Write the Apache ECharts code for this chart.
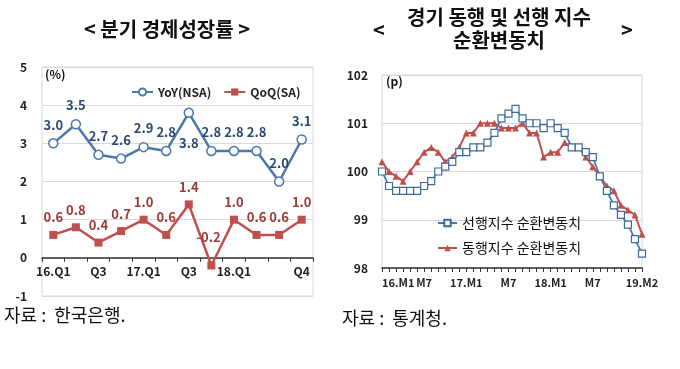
<!DOCTYPE html>
<html><head><meta charset="utf-8">
<script src="https://cdn.jsdelivr.net/npm/echarts@6/dist/echarts.min.js"></script>
<style>html,body{margin:0;padding:0;background:#fff}#c{width:680px;height:369px}</style>
</head><body><div id="c"></div>
<script>
// ---- Left chart data: quarterly GDP growth (%)
const quarters = ['16.Q1','16.Q2','16.Q3','16.Q4','17.Q1','17.Q2','17.Q3','17.Q4','18.Q1','18.Q2','18.Q3','18.Q4'];
const quarterTickLabels = ['16.Q1','','Q3','','17.Q1','','Q3','','18.Q1','','','Q4'];
const yoyNSA = [3.0,3.5,2.7,2.6,2.9,2.8,3.8,2.8,2.8,2.8,2.0,3.1];
const qoqSA  = [0.6,0.8,0.4,0.7,1.0,0.6,1.4,-0.2,1.0,0.6,0.6,1.0];
const leftYRange = [-1, 5];

// ---- Right chart data: cyclical components of leading/coincident indices
const months = ['16.M1','16.M2','16.M3','16.M4','16.M5','16.M6','16.M7','16.M8','16.M9','16.M10','16.M11','16.M12',
  '17.M1','17.M2','17.M3','17.M4','17.M5','17.M6','17.M7','17.M8','17.M9','17.M10','17.M11','17.M12',
  '18.M1','18.M2','18.M3','18.M4','18.M5','18.M6','18.M7','18.M8','18.M9','18.M10','18.M11','18.M12',
  '19.M1','19.M2'];
const monthTickLabels = ['16.M1','','','','','','M7','','','','','',
  '17.M1','','','','','','M7','','','','','',
  '18.M1','','','','','','M7','','','','','',
  '','19.M2'];
const leadingIdx = [100.0,99.7,99.6,99.6,99.6,99.6,99.7,99.8,100.0,100.1,100.2,100.4,
  100.4,100.5,100.5,100.6,100.8,101.1,101.2,101.3,101.1,101.0,101.0,100.9,
  101.0,100.9,100.8,100.5,100.5,100.4,100.3,99.9,99.6,99.3,99.1,98.9,
  98.6,98.3];
const coincidentIdx = [100.2,100.0,99.9,99.8,100.0,100.2,100.4,100.5,100.4,100.2,100.3,100.5,
  100.8,100.8,101.0,101.0,101.0,100.9,100.9,100.9,101.0,100.8,100.8,100.3,
  100.4,100.4,100.6,100.5,100.5,100.3,100.1,99.9,99.7,99.6,99.3,99.2,
  99.1,98.7];
const rightYRange = [98, 102];

const KR = '"Noto Sans CJK KR", "Noto Sans", sans-serif';
const BLUE = '#4a78ad', BLUE_TXT = '#2a4a72', RED = '#c0504d', RED_TXT = '#9c3a36';
const GRIDC = '#d9d9d9';

const chart = echarts.init(document.getElementById('c'));
const fmt1 = p => Number(p.value).toFixed(1);
const txt = (x, y, text, font, align) => ({ type:'text', x, y,
  style:{ text, font, fill:'#111', textAlign: align || 'left', textVerticalAlign:'middle' } });

// left grid geometry: y from -1..5 over 229px; the category axis sits on the 0 line
const LG = { left: 42, top: 67, width: 271, height: 229 };
const zeroH = LG.height * (leftYRange[1] - 0) / (leftYRange[1] - leftYRange[0]);

chart.setOption({
  animation: false,
  textStyle: { fontFamily: KR },
  graphic: [
    txt(167, 29, '< 분기 경제성장률 >', 'bold 20px ' + KR, 'center'),
    txt(379, 30, '<', 'bold 20px ' + KR, 'center'),
    txt(627, 30, '>', 'bold 20px ' + KR, 'center'),
    txt(499, 17, '경기 동행 및 선행 지수', 'bold 20px ' + KR, 'center'),
    txt(499, 40, '순환변동치', 'bold 20px ' + KR, 'center'),
    txt(4, 315, '자료 :  한국은행.', '18px ' + KR),
    txt(342, 318, '자료 :  통계청.', '18px ' + KR),
    txt(45, 74, '(%)', 'bold 12px ' + KR),
    txt(386, 81, '(p)', 'bold 12px ' + KR)
  ],
  legend: [
    { left: 126, top: 81, itemWidth: 21, itemHeight: 9, itemGap: 12,
      data: ['YoY(NSA)','QoQ(SA)'],
      textStyle:{ fontFamily: KR, fontWeight:'bold', fontSize: 12, color:'#222' } },
    { left: 432, top: 211, orient:'vertical', itemWidth: 19, itemHeight: 8, itemGap: 11,
      data: ['선행지수 순환변동치','동행지수 순환변동치'],
      textStyle:{ fontFamily: KR, fontSize: 14, color:'#111' } }
  ],
  grid: [
    { left: LG.left, top: LG.top, width: LG.width, height: LG.height, show: true, borderColor: GRIDC, borderWidth: 1 },
    { left: 382, top: 75, width: 260, height: 193, show: true, borderColor: GRIDC, borderWidth: 1 },
    { left: LG.left, top: LG.top, width: LG.width, height: zeroH, show: false }
  ],
  xAxis: [
    { type:'category', gridIndex:0, data: quarters, boundaryGap: true, show: false },
    { type:'category', gridIndex:1, data: months, boundaryGap: false,
      axisLine:{ lineStyle:{ color:'#333', width:1.5 } },
      axisTick:{ show:true, interval:0, length:4, lineStyle:{ color:'#333' } },
      axisLabel:{ interval:0, formatter:(v,i)=>monthTickLabels[i], alignMinLabel:'left',
        fontFamily:KR, fontWeight:'bold', fontSize:11, color:'#222', margin:9 } },
    { type:'category', gridIndex:2, data: quarters, boundaryGap: true,
      axisLine:{ lineStyle:{ color:'#333', width:1.5 } },
      axisTick:{ show:true, interval:0, length:4, lineStyle:{ color:'#333' } },
      axisLabel:{ interval:0, formatter:(v,i)=>quarterTickLabels[i], fontFamily:KR, fontWeight:'bold', fontSize:12, color:'#222', margin:8 } }
  ],
  yAxis: [
    { type:'value', gridIndex:0, min: leftYRange[0], max: leftYRange[1], interval: 1,
      axisLine:{ show:false }, axisTick:{ show:false },
      splitLine:{ lineStyle:{ color: GRIDC } },
      axisLabel:{ fontFamily:KR, fontWeight:'bold', fontSize:12, color:'#222', margin:15 } },
    { type:'value', gridIndex:1, min: rightYRange[0], max: rightYRange[1], interval: 1,
      axisLine:{ show:false }, axisTick:{ show:false },
      splitLine:{ lineStyle:{ color: GRIDC } },
      axisLabel:{ fontFamily:KR, fontWeight:'bold', fontSize:12, color:'#222', margin:14 } },
    { type:'value', gridIndex:2, min: 0, max: leftYRange[1], show: false }
  ],
  series: [
    { name:'YoY(NSA)', type:'line', xAxisIndex:0, yAxisIndex:0,
      data: yoyNSA.map((v,i)=> i===6 ? { value:v, label:{ position:'bottom', distance:19 } } : v),
      symbol:'circle', symbolSize: 9, itemStyle:{ color:'#fff', borderColor: BLUE, borderWidth:1.5 },
      lineStyle:{ color: BLUE, width: 2.5 },
      label:{ show:true, position:'top', distance:7, formatter: fmt1, color: BLUE_TXT, fontFamily:KR, fontWeight:'bold', fontSize:13 } },
    { name:'QoQ(SA)', type:'line', xAxisIndex:0, yAxisIndex:0,
      data: qoqSA.map((v,i)=> v<0 ? { value:v, label:{ position:'top', distance:18, offset:[-3,0] } } : v),
      symbol:'rect', symbolSize: 8, itemStyle:{ color: RED },
      lineStyle:{ color: RED, width: 2.5 },
      label:{ show:true, position:'top', distance:7, formatter: fmt1, color: RED_TXT, fontFamily:KR, fontWeight:'bold', fontSize:13 } },
    { name:'선행지수 순환변동치', type:'line', xAxisIndex:1, yAxisIndex:1, data: leadingIdx,
      symbol:'rect', symbolSize: 7, itemStyle:{ color:'#fff', borderColor:'#3e6a9a', borderWidth:1.2 },
      lineStyle:{ color: BLUE, width: 1.8 }, z: 3 },
    { name:'동행지수 순환변동치', type:'line', xAxisIndex:1, yAxisIndex:1, data: coincidentIdx,
      symbol:'triangle', symbolSize: 7, itemStyle:{ color: RED },
      lineStyle:{ color: RED, width: 2 }, z: 2 }
  ]
});
</script></body></html>
